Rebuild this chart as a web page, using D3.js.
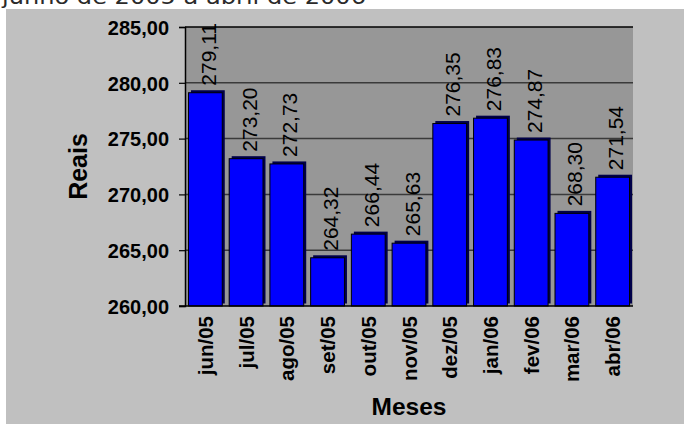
<!DOCTYPE html>
<html>
<head>
<meta charset="utf-8">
<script src="https://cdn.jsdelivr.net/npm/d3@7"></script>
<style>
  html, body { margin: 0; padding: 0; background: #ffffff; }
  svg { display: block; }
</style>
</head>
<body>
<svg id="chart" width="684" height="425"></svg>
<script>
// Monthly average values (R$), June 2005 to April 2006
const months = ["jun/05", "jul/05", "ago/05", "set/05", "out/05", "nov/05",
                "dez/05", "jan/06", "fev/06", "mar/06", "abr/06"];
const values = [279.11, 273.20, 272.73, 264.32, 266.44, 265.63,
                276.35, 276.83, 274.87, 268.30, 271.54];
const yTicks = [260, 265, 270, 275, 280, 285];
const titleText = "junho de 2005 a abril de 2006";
const yTitle = "Reais";
const xTitle = "Meses";

const fmt = v => v.toFixed(2).replace(".", ",");

const svg = d3.select("#chart");
const W = 684, H = 425;
const plot = { left: 185, right: 633, top: 27, bottom: 306 };

// Chart frame background
svg.append("rect")
  .attr("x", 6).attr("y", 9)
  .attr("width", W - 6).attr("height", 415)
  .attr("fill", "#c0c0c0");

// Subtitle line above the frame (runs off the top edge)
svg.append("text")
  .attr("x", 2).attr("y", 4)
  .attr("font-family", "DejaVu Sans, sans-serif")
  .attr("font-size", 21)
  .attr("fill", "#2a2a2a")
  .attr("textLength", 364)
  .attr("lengthAdjust", "spacingAndGlyphs")
  .text(titleText);

const x = d3.scaleBand()
  .domain(months)
  .range([plot.left, plot.right])
  .paddingInner(0.17)
  .paddingOuter(0.085);

const y = d3.scaleLinear()
  .domain([260, 285])
  .range([plot.bottom, plot.top]);

// Plot area
svg.append("rect")
  .attr("x", plot.left).attr("y", plot.top)
  .attr("width", plot.right - plot.left)
  .attr("height", plot.bottom - plot.top)
  .attr("fill", "#979797");

// Horizontal gridlines
svg.append("g")
  .selectAll("line")
  .data(yTicks.filter(t => t > 260 && t < 285))
  .join("line")
  .attr("x1", plot.left).attr("x2", plot.right)
  .attr("y1", d => y(d)).attr("y2", d => y(d))
  .attr("stroke", "#3a3a3a")
  .attr("stroke-width", 1.5);

// Top border of plot area
svg.append("line")
  .attr("x1", plot.left).attr("x2", plot.right)
  .attr("y1", y(285)).attr("y2", y(285))
  .attr("stroke", "#000").attr("stroke-width", 1.5);

// Bars with a dark offset edge for depth
const bars = svg.append("g");
const depth = 2.5;
bars.selectAll("rect.edge")
  .data(values)
  .join("rect")
  .attr("class", "edge")
  .attr("x", (d, i) => x(months[i]) + depth)
  .attr("y", d => y(d) - depth)
  .attr("width", x.bandwidth())
  .attr("height", d => y(260) - y(d))
  .attr("fill", "#00004a");
bars.selectAll("rect.face")
  .data(values)
  .join("rect")
  .attr("class", "face")
  .attr("x", (d, i) => x(months[i]))
  .attr("y", d => y(d))
  .attr("width", x.bandwidth())
  .attr("height", d => y(260) - y(d))
  .attr("fill", "#0000ff")
  .attr("stroke", "#000")
  .attr("stroke-width", 1);

// Value labels
svg.append("g")
  .selectAll("text")
  .data(values)
  .join("text")
  .attr("transform", (d, i) => {
    const cx = x(months[i]) + x.bandwidth() / 2 + 10.5;
    return `translate(${cx},${y(d) - 7}) rotate(-90)`;
  })
  .attr("font-family", "Liberation Sans, Arial, sans-serif")
  .attr("font-size", 21)
  .attr("fill", "#000")
  .text(d => fmt(d));

// Y axis
const yAxis = d3.axisLeft(y)
  .tickValues(yTicks)
  .tickFormat(d => fmt(d))
  .tickSize(6)
  .tickPadding(10);
const gy = svg.append("g")
  .attr("transform", `translate(${plot.left},0)`)
  .call(yAxis);
gy.select(".domain").attr("stroke", "#000").attr("stroke-width", 1.5);
gy.selectAll(".tick line").attr("stroke", "#000").attr("stroke-width", 1.2);
gy.selectAll(".tick text")
  .attr("font-family", "Liberation Sans, Arial, sans-serif")
  .attr("font-size", 20)
  .attr("font-weight", "bold")
  .attr("fill", "#000")
  .attr("dy", "0.36em");

// X axis
const xAxis = d3.axisBottom(x).tickSize(0).tickPadding(0);
const gx = svg.append("g")
  .attr("transform", `translate(0,${plot.bottom})`)
  .call(xAxis);
gx.select(".domain").remove();
gx.append("line")
  .attr("x1", plot.left - 6).attr("x2", plot.right)
  .attr("y1", 0).attr("y2", 0)
  .attr("stroke", "#000").attr("stroke-width", 1.5);
gx.selectAll(".tick text")
  .attr("font-family", "Liberation Sans, Arial, sans-serif")
  .attr("font-size", 20.5)
  .attr("font-weight", "bold")
  .attr("fill", "#000")
  .attr("text-anchor", "end")
  .attr("dy", null)
  .attr("transform", "translate(7.5,10) rotate(-90)")
  .attr("x", 0).attr("y", 0);

// Axis titles
svg.append("text")
  .attr("transform", `translate(86.5,${(plot.top + plot.bottom) / 2}) rotate(-90)`)
  .attr("text-anchor", "middle")
  .attr("font-family", "Liberation Sans, Arial, sans-serif")
  .attr("font-size", 25)
  .attr("font-weight", "bold")
  .attr("fill", "#000")
  .text(yTitle);

svg.append("text")
  .attr("x", (plot.left + plot.right) / 2)
  .attr("y", 415)
  .attr("text-anchor", "middle")
  .attr("font-family", "Liberation Sans, Arial, sans-serif")
  .attr("font-size", 24.5)
  .attr("font-weight", "bold")
  .attr("fill", "#000")
  .text(xTitle);
</script>
</body>
</html>
